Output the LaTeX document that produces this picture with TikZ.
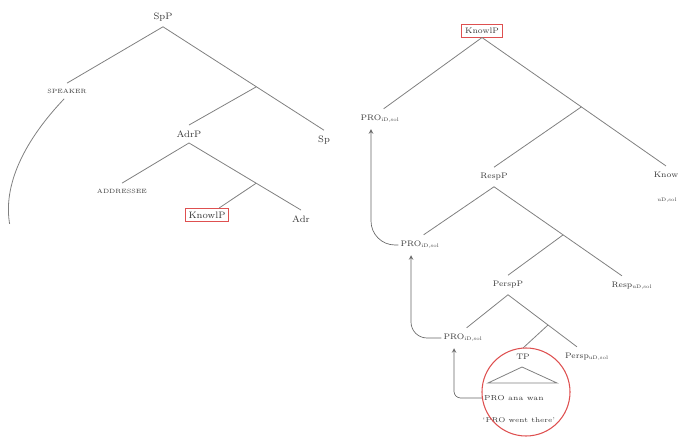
\documentclass[tikz,border=0pt]{standalone}
\usepackage{tikz}
\usepackage{amsmath}
\usepackage{xcolor}
\usetikzlibrary{calc}
\newcommand{\fsub}[1]{\textsubscript{\fontsize{3.8}{4}\selectfont #1}}

\begin{document}
\begin{tikzpicture}[x=0.75pt,y=0.75pt,yscale=-1,xscale=1,
	lbl/.style={inner xsep=1.5pt, inner ysep=4.5pt, text=black!78, font=\fontsize{6}{7}\selectfont},
	lblA/.style={lbl, inner ysep=4pt, font=\fontsize{7}{8}\selectfont},
	caps/.style={inner xsep=1pt, inner ysep=4pt, text=black!78, font=\fontsize{4.6}{5}\selectfont},
	boxed/.style={lbl, inner sep=2.5pt, draw={rgb, 255:red, 222; green, 80; blue, 80 }, line width=0.6pt},
	br/.style={draw=black!50, line width=0.6pt},
	mv/.style={draw=black!60, line width=0.5pt, -stealth}]
	\useasboundingbox (0,0) rectangle (678,438);
	
	%Tree: SpP (cut off at the bottom)
	\begin{scope}
		\clip (0,0) rectangle (340,224);
		% Text Node
		\node[lblA] (spp) at (163,17) {SpP};
		\node[caps] (speaker) at (67,91) {SPEAKER};
		\node[lblA] (sp) at (324,140) {Sp};
		\node[lblA] (adrp) at (189,134) {AdrP};
		\node[caps] (addressee) at (122,191) {ADDRESSEE};
		\node[lblA] (adr) at (301,219) {Adr};
		\node[boxed, font=\fontsize{7}{8}\selectfont] (knowlpA) at (207,215) {KnowlP};
		\coordinate (b1) at ($(spp.south)!0.58!(sp.north)$);
		\coordinate (b2) at ($(adrp.south)!0.6!(adr.north)$);
		\coordinate (cutA) at (10,226);
		
		\draw[br] (spp.south) -- (speaker.north);
		\draw[br] (spp.south) -- (b1) -- (sp.north);
		\draw[br] (b1) -- (adrp.north);
		\draw[br] (adrp.south) -- (addressee.north);
		\draw[br] (adrp.south) -- (b2) -- (adr.north);
		\draw[br] (b2) -- (knowlpA.30);
		%Shape: Curve
		\draw[br] (speaker.250) .. controls (25,140) and (2,185) .. (cutA);
	\end{scope}
	
	%Tree: KnowlP
	% Text Node
	\node[boxed] (knowlp) at (482,31) {KnowlP};
	\node[lbl] (pro1) at (371,119) {PRO\rlap{\fsub{iD,sol}}};
	\node[lbl] (know) at (666,175) {Know};
	\node[lbl, font=\fontsize{3.8}{4}\selectfont] (knowsub) at (667,200) {uD,sol};
	\node[lbl] (respp) at (494,177) {RespP};
	\node[lbl] (pro2) at (411,245) {PRO\rlap{\fsub{iD,sol}}};
	\node[lbl] (resp) at (622,286) {Resp\rlap{\fsub{uD,sol}}};
	\node[lbl] (perspp) at (508,285) {PerspP};
	\node[lbl] (pro3) at (454,338) {PRO\rlap{\fsub{iD,sol}}};
	\node[lbl] (persp) at (577,357) {Persp\rlap{\fsub{uD,sol}}};
	\node[lbl] (tp) at (523,357) {TP};
	\node[lbl, inner ysep=1pt, font=\fontsize{5.4}{6}\selectfont] (sent) at (514,398) {PRO ana wan};
	\node[lbl, inner ysep=1pt, font=\fontsize{5.2}{6}\selectfont] (gloss) at (519,420) {`PRO went there'};
	\coordinate (b3) at ($(knowlp.south)!0.54!(know.north)$);
	\coordinate (b4) at ($(respp.south)!0.54!(resp.north)$);
	\coordinate (b5) at ($(perspp.south)!0.58!(persp.north)$);
	
	\draw[br] (knowlp.south) -- (pro1.north east);
	\draw[br] (knowlp.south) -- (b3) -- (know.north);
	\draw[br] (b3) -- (respp.north);
	\draw[br] (respp.south) -- (pro2.north east);
	\draw[br] (respp.south) -- (b4) -- (resp.north);
	\draw[br] (b4) -- (perspp.north);
	\draw[br] (perspp.south) -- (pro3.north east);
	\draw[br] (perspp.south) -- (b5) -- (persp.north);
	\draw[br] (b5) -- (tp.north);
	%Shape: Triangle
	\draw[br] (522,367) -- (557,383) -- (488,383) -- cycle;
	%Shape: Circle
	\node[draw={rgb, 255:red, 222; green, 80; blue, 80 }, line width=0.8pt, circle, minimum size=66pt, inner sep=0pt] (ring) at (526,392) {};
	
	%Movement arrows
	\draw[mv, rounded corners=5pt] (sent.west) -| (pro3.south);
	\draw[mv, rounded corners=12pt] (pro3.west) -| (pro2.south);
	\draw[mv, rounded corners=18pt] (pro2.west) -| (pro1.south);
\end{tikzpicture}
\end{document}
